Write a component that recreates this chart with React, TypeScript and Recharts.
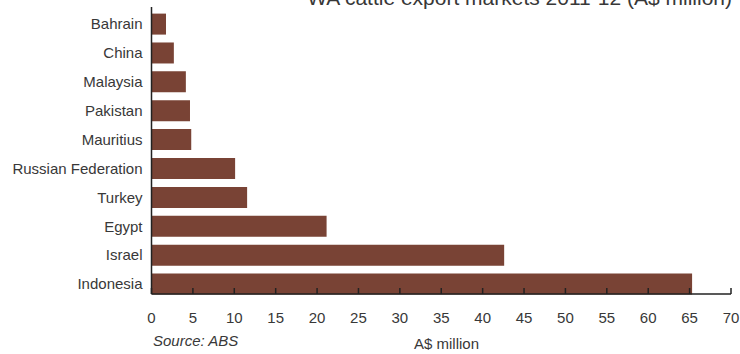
import React from 'react';
import { BarChart, Bar, XAxis, YAxis } from 'recharts';

const countries = ['Bahrain', 'China', 'Malaysia', 'Pakistan', 'Mauritius', 'Russian Federation', 'Turkey', 'Egypt', 'Israel', 'Indonesia'];
const values = [1.75, 2.7, 4.15, 4.65, 4.8, 10.1, 11.55, 21.15, 42.6, 65.3];
const xTicks = [0, 5, 10, 15, 20, 25, 30, 35, 40, 45, 50, 55, 60, 65, 70];
const title = 'WA cattle export markets 2011-12 (A$ million)';
const sourceNote = 'Source: ABS';
const axisUnit = 'A$ million';

const data = countries.map((c, i) => ({ name: c, value: values[i] }));

const FONT = '"Liberation Sans", Arial, sans-serif';
const TEXT = '#383838';

export default function App() {
  return (
    <div style={{ position: 'absolute', left: 0, top: 0 }}>
      <BarChart
        width={740}
        height={354}
        data={data}
        layout="vertical"
        margin={{ top: 7, right: 9, left: 0, bottom: 30 }}
      >
        <Bar dataKey="value" fill="#794335" barSize={21} isAnimationActive={false} />
        <XAxis
          type="number"
          domain={[0, 70]}
          ticks={xTicks}
          interval={0}
          height={30}
          axisLine={{ stroke: '#222', strokeWidth: 1.5 }}
          tickLine={{ stroke: '#222', strokeWidth: 1.5 }}
          tickSize={-6}
          tickMargin={24}
          tick={{ fill: TEXT, fontSize: 15, fontFamily: FONT }}
        />
        <YAxis
          type="category"
          dataKey="name"
          width={151.5}
          padding={{ top: 2.6, bottom: -4.4 }}
          axisLine={{ stroke: '#222', strokeWidth: 1.5 }}
          tickLine={false}
          tickSize={0}
          tickMargin={9}
          interval={0}
          tick={{ fill: TEXT, fontSize: 15, fontFamily: FONT }}
        />
        <text x={732} y={5} textAnchor="end" fontSize={21} fontFamily={FONT} fill={TEXT}>
          {title}
        </text>
        <text x={153} y={346} fontSize={15} fontStyle="italic" fontFamily={FONT} fill={TEXT}>
          {sourceNote}
        </text>
        <text x={414} y={349} fontSize={15} fontFamily={FONT} fill={TEXT}>
          {axisUnit}
        </text>
      </BarChart>
    </div>
  );
}
